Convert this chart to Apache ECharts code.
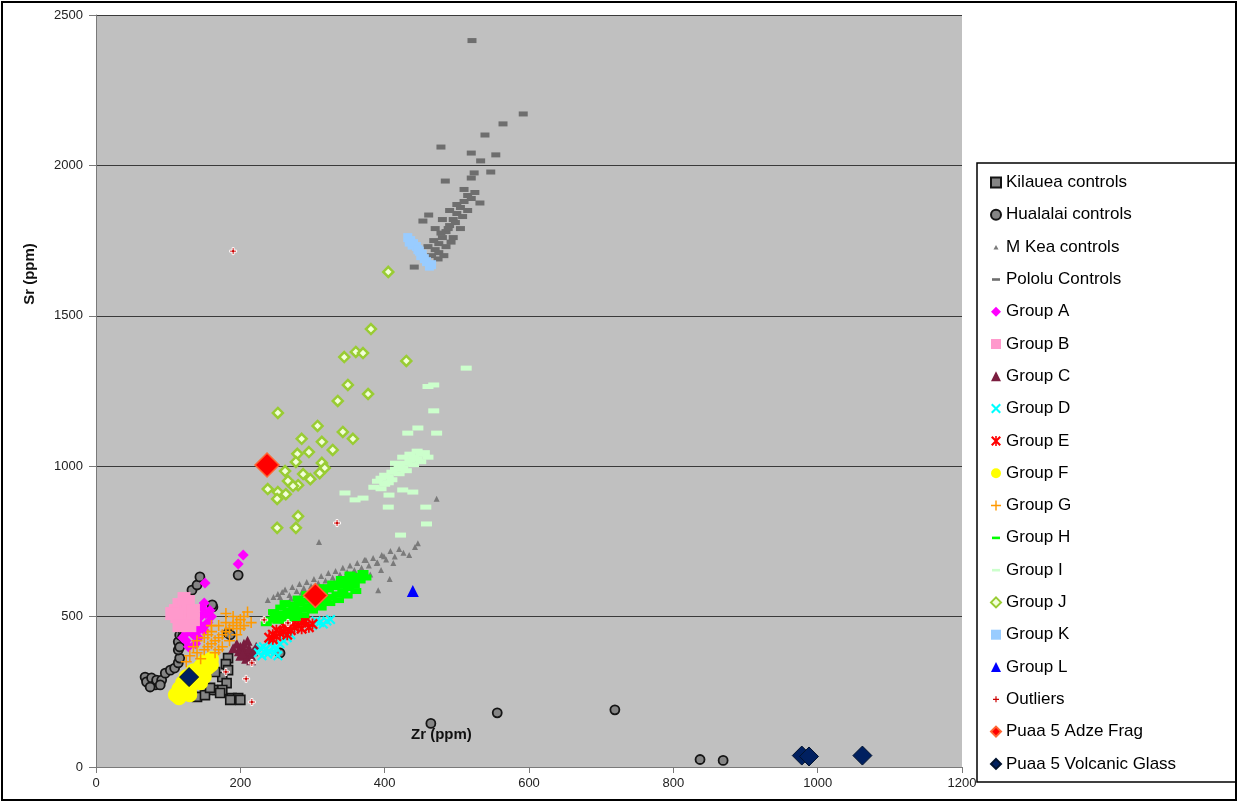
<!DOCTYPE html>
<html><head><meta charset="utf-8">
<script src="https://cdn.jsdelivr.net/npm/echarts@6/dist/echarts.min.js"></script>
<style>html,body{margin:0;padding:0;background:#fff}#chart{width:1238px;height:803px}</style>
</head><body><div id="chart"></div>
<script>
// ---------------- DATA (Zr ppm, Sr ppm) ----------------
const kilaueaControls = [[183,362],[180,342],[183,322],[175,299],[181,279],[168,256],[175,256],[162,256],[172,246],[140,233],[151,239],[188,229],[197,229],[186,223],[200,223],[158,263],[165,316]];
const hualalaiControls = [[68,299],[70,283],[77,296],[82,273],[84,289],[91,289],[96,312],[103,322],[109,329],[114,346],[75,266],[89,273],[116,362],[114,389],[114,416],[116,439],[120,455],[133,588],[140,605],[144,632],[162,532],[161,539],[197,638],[183,445],[186,440],[255,379],[123,455],[116,399],[120,432],[464,145],[556,180],[719,190],[837,25],[869,22]];
const mKeaControls = [[238,555],[246,565],[252,575],[258,582],[262,590],[268,572],[272,598],[278,585],[282,608],[288,595],[292,615],[298,602],[302,625],[308,612],[312,635],[318,620],[322,645],[328,630],[332,652],[338,640],[342,662],[348,648],[352,670],[358,655],[362,678],[368,662],[372,688],[378,670],[384,695],[390,680],[396,705],[402,690],[408,718],[414,700],[420,725],[426,712],[412,678],[434,705],[446,744],[442,731],[472,892],[407,625],[391,588],[309,748],[399,701],[374,688],[389,678],[380,640],[365,630],[395,655],[285,580],[300,590],[315,600],[330,615],[345,628],[360,640],[270,560],[255,565]];
const pololuControls = [[521,2415],[592,2171],[564,2138],[539,2101],[478,2061],[520,2041],[554,2035],[533,2015],[547,1978],[524,1975],[520,1958],[484,1948],[453,1815],[461,1835],[532,1875],[441,1662],[474,1689],[465,1700],[470,1720],[475,1740],[480,1760],[485,1780],[490,1800],[495,1820],[500,1840],[505,1860],[510,1880],[515,1900],[468,1750],[478,1775],[488,1790],[498,1810],[508,1830],[475,1710],[485,1730],[495,1760],[505,1790],[515,1850],[520,1890],[490,1850],[480,1820],[470,1790],[500,1870],[525,1910],[510,1920],[460,1730],[492,1745],[482,1700]];
const groupA = [[204,705],[197,675],[151,612],[150,545],[147,530],[152,510],[140,490],[145,470],[155,480],[130,460],[135,440],[125,420],[140,450],[150,455],[160,500],[128,400],[138,410],[120,430],[132,470],[145,500],[158,520],[135,480],[142,430],[125,445],[148,465]];
const groupB = [[110,520],[115,540],[120,500],[125,530],[118,480],[130,510],[112,500],[128,550],[135,490],[122,560],[105,510],[135,520],[130,470],[115,470]];
const groupC = [[195,410],[200,400],[205,390],[210,380],[215,370],[200,370],[208,360],[212,395],[198,385],[218,385],[205,410],[190,395],[203,378],[215,355],[222,400],[210,420]];
const groupD = [[225,380],[230,370],[235,390],[240,385],[245,400],[250,395],[238,375],[255,410],[260,420],[232,400],[248,380],[242,410],[265,430],[252,370],[228,395],[300,470],[310,480],[320,485],[315,475],[325,490],[305,485],[270,440]];
const groupE = [[240,430],[245,440],[250,435],[255,445],[260,450],[265,460],[270,455],[275,465],[280,470],[285,480],[290,485],[260,470],[270,480],[250,455],[280,490],[295,465],[300,475],[245,425],[265,440],[285,460]];
const groupF = [[110,240],[115,260],[120,250],[125,270],[130,260],[120,280],[135,290],[140,300],[145,310],[150,320],[155,330],[160,340],[145,280],[130,240],[150,300],[140,320],[155,350],[160,360],[115,230],[125,300],[135,320],[145,335],[150,350]];
const groupG = [[125,350],[130,370],[140,380],[150,390],[155,400],[160,410],[165,420],[170,430],[175,440],[180,450],[185,460],[190,470],[195,480],[200,490],[205,500],[180,510],[210,515],[150,430],[160,450],[170,470],[140,420],[135,400],[185,420],[195,440],[175,400],[165,380],[190,500],[200,460],[145,360],[155,440],[170,390],[180,480],[205,470],[215,480],[160,470]];
const groupH = [[236,478],[242,490],[248,500],[252,486],[258,510],[262,498],[266,520],[270,505],[274,530],[278,512],[282,545],[286,525],[290,552],[294,532],[298,560],[302,540],[306,570],[310,548],[314,578],[318,556],[322,590],[326,565],[330,598],[334,574],[338,605],[342,585],[346,615],[350,595],[354,625],[358,605],[362,635],[366,620],[370,645],[374,630],[256,530],[268,540],[280,560],[292,575],[304,585],[316,598],[328,610],[340,625],[352,640],[288,505],[300,520],[312,530],[324,545],[336,555],[348,570],[360,585],[264,488],[276,495],[246,515],[262,545]];
const groupI = [[513,1326],[468,1270],[460,1265],[468,1184],[446,1127],[432,1110],[472,1110],[345,911],[359,888],[370,894],[406,904],[425,921],[439,914],[457,864],[458,808],[422,771],[405,864],[390,950],[395,960],[400,970],[405,965],[410,980],[415,990],[420,1000],[425,995],[430,1010],[435,1020],[440,1030],[445,1025],[450,1040],[455,1045],[400,940],[410,955],[420,975],[430,985],[440,1005],[450,1015],[460,1030],[415,1010],[425,1030],[435,1040],[445,1050],[385,930],[395,925],[405,945]];
const groupJ = [[405,1646],[381,1456],[344,1363],[360,1380],[370,1376],[430,1350],[349,1270],[377,1240],[335,1217],[252,1177],[307,1134],[342,1114],[356,1091],[285,1091],[313,1081],[328,1054],[295,1047],[279,1041],[277,1014],[313,1011],[317,994],[310,977],[297,957],[287,974],[266,951],[280,937],[273,934],[262,984],[238,924],[252,914],[263,907],[251,891],[280,834],[251,795],[277,795]];
const groupK = [[432,1760],[436,1750],[440,1740],[444,1730],[448,1715],[452,1705],[455,1690],[458,1680],[462,1665],[465,1670],[438,1735],[446,1720],[434,1745],[450,1700]];
const groupL = [[439,585]];
const outliers = [[190,1715],[334,811],[233,489],[266,479],[216,346],[180,316],[208,293],[216,216]];
const puaaAdzeFrag = [[237,1004],[304,570]];
const puaaVolcanicGlass = [[129,299],[978,38],[988,35],[1062,38]];

const xTicks = {min: 0, max: 1200, step: 200};
const yTicks = {min: 0, max: 2500, step: 500};

// ---------------- STYLES ----------------
const FONT = "'Liberation Sans', Arial, sans-serif";
const P_X = 'path://M0,1.5L1.5,0L5,3.5L8.5,0L10,1.5L6.5,5L10,8.5L8.5,10L5,6.5L1.5,10L0,8.5L3.5,5Z';
const P_AST = 'path://M0,1.5L1.5,0L5,3.5L8.5,0L10,1.5L6.5,5L10,8.5L8.5,10L5,6.5L1.5,10L0,8.5L3.5,5Z M4.2,0H5.8V10H4.2Z';
const P_PLUS = 'path://M4.3,0H5.7V4.3H10V5.7H5.7V10H4.3V5.7H0V4.3H4.3Z';
const P_PLUS_B = 'path://M3.6,0H6.4V3.6H10V6.4H6.4V10H3.6V6.4H0V3.6H3.6Z';
const L_DASH = 'path://M0,0L0,0M1,3.8H9V6.4H1Z M10,10L10,10';
const L_TRI_S = 'path://M0,0L0,0M5,3L7.5,7.5H2.5Z M10,10L10,10';
const L_PLUS_S = 'path://M0,0L0,0M4.4,2H5.6V4.4H8V5.6H5.6V8H4.4V5.6H2V4.4H4.4Z M10,10L10,10';

const defs = [
  {name:'Kilauea controls', data:kilaueaControls, symbol:'rect', size:9, icon:'rect', style:{color:'#858585', borderColor:'#151515', borderWidth:1.6}},
  {name:'Hualalai controls', data:hualalaiControls, symbol:'circle', size:9, icon:'circle', style:{color:'#858585', borderColor:'#151515', borderWidth:1.8}},
  {name:'M Kea controls', data:mKeaControls, symbol:'triangle', size:6, icon:L_TRI_S, style:{color:'#7a7a7a'}},
  {name:'Pololu Controls', data:pololuControls, symbol:'rect', size:[9,5], icon:L_DASH, style:{color:'#6e6e6e'}},
  {name:'Group A', data:groupA, symbol:'diamond', size:11, icon:'diamond', style:{color:'#ff00ff'}},
  {name:'Group B', data:groupB, symbol:'rect', size:13, icon:'rect', style:{color:'#ff99cc'}},
  {name:'Group C', data:groupC, symbol:'triangle', size:10, icon:'triangle', style:{color:'#7b1d3f'}},
  {name:'Group D', data:groupD, symbol:P_X, size:10, icon:P_X, style:{color:'#00ffff'}},
  {name:'Group E', data:groupE, symbol:P_AST, size:11, icon:P_AST, style:{color:'#ff0000'}},
  {name:'Group F', data:groupF, symbol:'circle', size:15, icon:'circle', style:{color:'#ffff00'}},
  {name:'Group G', data:groupG, symbol:P_PLUS, size:11, icon:P_PLUS, style:{color:'#ff9900'}},
  {name:'Group H', data:groupH, symbol:'rect', size:[11,6], icon:L_DASH, style:{color:'#00ff00'}},
  {name:'Group I', data:groupI, symbol:'rect', size:[11,5], icon:L_DASH, style:{color:'#ccffcc'}},
  {name:'Group J', data:groupJ, symbol:'diamond', size:10, icon:'diamond', style:{color:'#f2ffd9', borderColor:'#99cc33', borderWidth:2.5}},
  {name:'Group K', data:groupK, symbol:'rect', size:9, icon:'rect', style:{color:'#99ccff'}},
  {name:'Group L', data:groupL, symbol:'triangle', size:12, icon:'triangle', style:{color:'#0000ff'}},
  {name:'Outliers', data:outliers, symbol:P_PLUS_B, size:7, icon:L_PLUS_S, style:{color:'#cc0000', borderColor:'#ffffff', borderWidth:1}, legendStyle:{borderWidth:0, color:'#cc0000'}},
  {name:'Puaa 5 Adze Frag', data:puaaAdzeFrag, symbol:'diamond', size:24, icon:'diamond', style:{color:'#ff0000', borderColor:'#ff6633', borderWidth:1.5}},
  {name:'Puaa 5 Volcanic Glass', data:puaaVolcanicGlass, symbol:'diamond', size:19, icon:'diamond', style:{color:'#002060', borderColor:'#00122e', borderWidth:1}}
];

const chart = echarts.init(document.getElementById('chart'), null, {renderer:'canvas'});
chart.setOption({
  animation: false,
  backgroundColor: '#ffffff',
  textStyle: {fontFamily: FONT},
  grid: {left: 96, top: 15, right: 276, bottom: 36, show: true, backgroundColor: '#c0c0c0', borderWidth: 0},
  xAxis: {
    type: 'value', min: xTicks.min, max: xTicks.max, interval: xTicks.step,
    axisLine: {show: true, onZero: false, lineStyle: {color: '#7a7a7a', width: 1}},
    axisTick: {show: true, length: 6, lineStyle: {color: '#7a7a7a'}},
    axisLabel: {fontSize: 13, color: '#222', margin: 10, fontFamily: FONT, formatter: v => String(v)},
    splitLine: {show: false}
  },
  yAxis: {
    type: 'value', min: yTicks.min, max: yTicks.max, interval: yTicks.step,
    axisLine: {show: true, onZero: false, lineStyle: {color: '#7a7a7a', width: 1}},
    axisTick: {show: true, length: 7, lineStyle: {color: '#7a7a7a'}},
    axisLabel: {fontSize: 13, color: '#222', margin: 13, fontFamily: FONT, formatter: v => String(v)},
    splitLine: {show: true, lineStyle: {color: '#3a3a3a', width: 1}}
  },
  legend: {
    orient: 'vertical', left: 990, top: 174, padding: 0, z: 10,
    itemWidth: 10, itemHeight: 10, itemGap: 15.3,
    textStyle: {fontSize: 17, color: '#000', fontFamily: FONT},
    data: defs.map(d => d.legendStyle ? {name: d.name, icon: d.icon, itemStyle: d.legendStyle} : {name: d.name, icon: d.icon})
  },
  graphic: [
    {type: 'rect', z: 1, silent: true, shape: {x: 977, y: 163, width: 259, height: 619}, style: {fill: '#ffffff', stroke: '#000', lineWidth: 1.5}},
    {type: 'rect', z: 1, silent: true, shape: {x: 2, y: 2, width: 1234, height: 798}, style: {fill: 'none', stroke: '#000', lineWidth: 2}},
    {type: 'text', z: 100, x: 411, y: 735, style: {text: 'Zr (ppm)', fontSize: 15, fontWeight: 'bold', fontFamily: FONT, fill: '#111', verticalAlign: 'middle', textVerticalAlign: 'middle'}},
    {type: 'text', z: 100, x: 30, y: 274, rotation: Math.PI / 2, style: {text: 'Sr (ppm)', fontSize: 15, fontWeight: 'bold', fontFamily: FONT, fill: '#111', align: 'center', textAlign: 'center', verticalAlign: 'middle', textVerticalAlign: 'middle'}}
  ],
  series: defs.map(d => ({
    name: d.name, type: 'scatter', data: d.data,
    symbol: d.symbol, symbolSize: d.size,
    itemStyle: Object.assign({opacity: 1}, d.style),
    emphasis: {disabled: true}
  }))
});
</script></body></html>
